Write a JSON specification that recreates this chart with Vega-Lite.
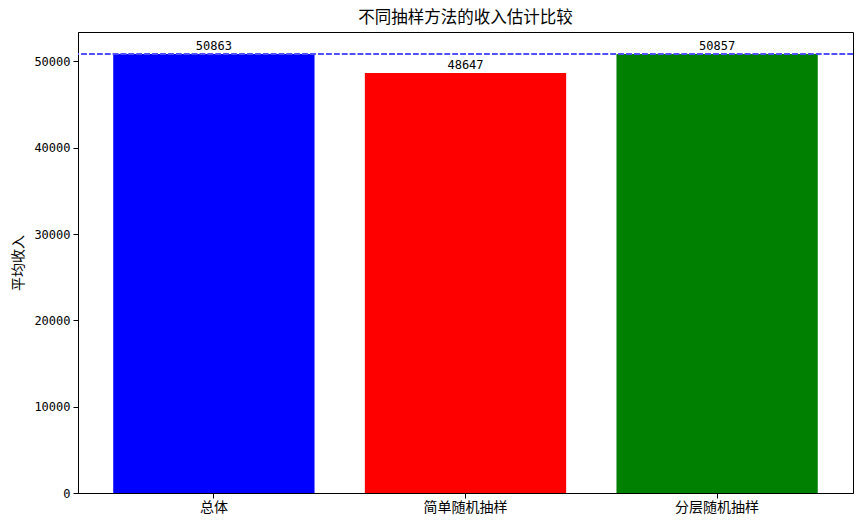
{
  "$schema": "https://vega.github.io/schema/vega-lite/v6.json",
  "width": 775,
  "height": 461,
  "autosize": {"type": "none"},
  "padding": {"left": 78, "top": 32, "right": 9, "bottom": 34},
  "background": "white",
  "title": {
    "text": "不同抽样方法的收入估计比较",
    "font": "Noto Sans CJK SC",
    "fontSize": 16.5,
    "fontWeight": "normal",
    "color": "black",
    "offset": 6
  },
  "config": {
    "view": {"stroke": "black", "strokeWidth": 1},
    "axis": {
      "domainColor": "black",
      "tickColor": "black",
      "labelColor": "black",
      "titleColor": "black",
      "grid": false
    }
  },
  "data": {
    "values": [
      {"method": "总体", "income": 50863},
      {"method": "简单随机抽样", "income": 48647},
      {"method": "分层随机抽样", "income": 50857}
    ]
  },
  "layer": [
    {
      "mark": {"type": "bar"},
      "encoding": {
        "x": {
          "field": "method",
          "type": "nominal",
          "sort": null,
          "scale": {"paddingInner": 0.2, "paddingOuter": 0.14},
          "axis": {
            "title": null,
            "labelAngle": 0,
            "labelFont": "Noto Sans CJK SC",
            "labelFontSize": 14,
            "tickSize": 5,
            "labelPadding": 2
          }
        },
        "y": {
          "field": "income",
          "type": "quantitative",
          "scale": {"domain": [0, 53406], "nice": false},
          "axis": {
            "title": "平均收入",
            "titleFont": "Noto Sans CJK SC",
            "titleFontSize": 14,
            "titleFontWeight": "normal",
            "titlePadding": 8,
            "values": [0, 10000, 20000, 30000, 40000, 50000],
            "format": "d",
            "labelFont": "DejaVu Sans Mono",
            "labelFontSize": 12,
            "tickSize": 5,
            "labelPadding": 3
          }
        },
        "color": {
          "field": "method",
          "type": "nominal",
          "scale": {
            "domain": ["总体", "简单随机抽样", "分层随机抽样"],
            "range": ["#0000ff", "#ff0000", "#008000"]
          },
          "legend": null
        }
      }
    },
    {
      "mark": {
        "type": "text",
        "baseline": "bottom",
        "dy": -1,
        "font": "DejaVu Sans Mono",
        "fontSize": 12,
        "color": "black"
      },
      "encoding": {
        "x": {"field": "method", "type": "nominal", "sort": null},
        "y": {"field": "income", "type": "quantitative"},
        "text": {"field": "income", "type": "quantitative", "format": "d"}
      }
    },
    {
      "mark": {
        "type": "rule",
        "color": "#4d4dff",
        "strokeWidth": 1.5,
        "strokeDash": [5.5, 2.4]
      },
      "encoding": {
        "y": {"datum": 50863, "type": "quantitative"}
      }
    }
  ]
}
